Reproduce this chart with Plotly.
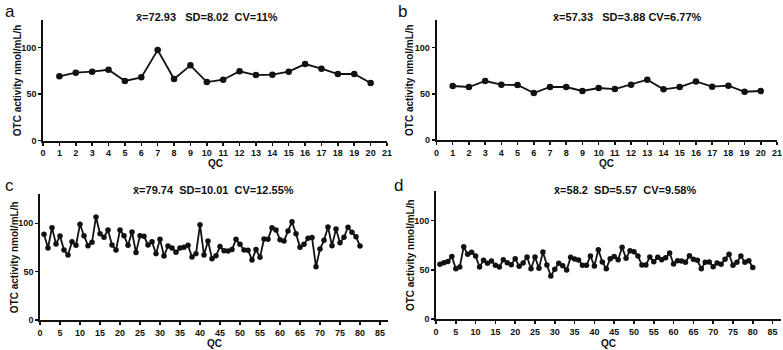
import plotly.graph_objects as go

# ---------------- data ----------------
qc_ab = list(range(1, 21))
qc_cd = list(range(1, 81))

otc_a = [69.2, 73.1, 74.2, 76.3, 64.2, 68.1, 97.5, 66.3, 81.0, 63.1,
         65.6, 74.6, 70.6, 71.0, 74.2, 82.4, 77.4, 71.7, 71.7, 62.0]

otc_b = [58.5, 57.4, 63.9, 59.9, 59.6, 50.9, 57.4, 57.4, 53.1, 56.3,
         55.2, 59.9, 65.3, 54.9, 57.4, 63.5, 57.8, 58.8, 52.3, 53.1]

otc_c = [88.6, 74.5, 95.5, 78.6, 86.9, 72.4, 67.2, 81.0, 77.2, 99.0,
         87.2, 76.9, 80.3, 106.6, 89.3, 85.5, 93.1, 77.6, 72.4, 93.1,
         87.2, 77.2, 91.0, 69.7, 87.2, 86.6, 77.6, 81.0, 68.6, 83.4,
         66.2, 76.6, 74.5, 70.0, 74.5, 75.2, 77.2, 65.2, 68.6, 98.5,
         67.2, 81.7, 63.4, 66.4, 75.9, 71.7, 71.4, 72.8, 83.4, 78.3,
         72.4, 72.1, 62.1, 72.8, 64.8, 83.8, 83.4, 95.5, 93.1, 83.1,
         81.7, 92.1, 101.7, 89.3, 75.2, 78.3, 84.5, 85.2, 55.2, 73.4,
         82.4, 96.2, 76.9, 94.1, 80.0, 85.5, 95.9, 90.7, 86.2, 76.6]

otc_d = [55.6, 57.3, 58.6, 63.7, 51.2, 52.9, 73.6, 65.8, 67.8, 64.1,
         52.9, 59.7, 56.6, 59.0, 54.6, 52.9, 60.3, 57.3, 55.3, 61.4,
         53.6, 56.9, 63.1, 51.2, 63.1, 51.5, 68.1, 54.9, 43.7, 50.5,
         56.6, 54.2, 49.8, 62.7, 61.0, 60.0, 54.6, 54.6, 64.1, 54.0,
         70.5, 58.0, 51.2, 61.4, 63.7, 60.3, 72.9, 61.7, 69.5, 68.5,
         64.1, 54.9, 54.9, 63.1, 58.3, 62.7, 60.3, 62.4, 67.1, 55.9,
         59.3, 59.0, 57.6, 64.4, 60.7, 59.7, 51.2, 57.6, 58.0, 53.2,
         56.9, 55.6, 60.7, 65.8, 54.6, 57.6, 64.1, 57.6, 59.3, 52.5]

panel_letters = ["a", "b", "c", "d"]
panel_titles = [
    "x\u0304=72.93   SD=8.02  CV=11%",
    "x\u0304=57.33   SD=3.88 CV=6.77%",
    "x\u0304=79.74  SD=10.01  CV=12.55%",
    "x\u0304=58.2  SD=5.57  CV=9.58%",
]
y_title = "OTC activity nmol/mL/h"
x_title = "QC"
y_ticks = [0, 50, 100]
x_ticks_ab = list(range(0, 22))
x_ticks_cd = list(range(0, 90, 5))

# ---------------- layout geometry ----------------
W, H = 783, 350
FONT = "Liberation Sans, Arial, Helvetica, sans-serif"

panels = [
    dict(x=qc_ab, y=otc_a, xdom=[43 / W, 387 / W], ydom=[1 - 140.7 / H, 1 - 19.8 / H],
         xr=[0, 21], xt=x_ticks_ab, ms=6.5),
    dict(x=qc_ab, y=otc_b, xdom=[436.5 / W, 777 / W], ydom=[1 - 140 / H, 1 - 20 / H],
         xr=[0, 21], xt=x_ticks_ab, ms=6.5),
    dict(x=qc_cd, y=otc_c, xdom=[40 / W, 388 / W], ydom=[1 - 320 / H, 1 - 194.3 / H],
         xr=[0, 87], xt=x_ticks_cd, ms=5.5),
    dict(x=qc_cd, y=otc_d, xdom=[436 / W, 780.5 / W], ydom=[1 - 319 / H, 1 - 191.2 / H],
         xr=[0, 87], xt=x_ticks_cd, ms=5.5),
]

fig = go.Figure()
layout = dict(
    width=W, height=H,
    margin=dict(l=0, r=0, t=0, b=0, pad=0),
    paper_bgcolor="white", plot_bgcolor="white",
    showlegend=False,
    font=dict(family=FONT, color="#111"),
)

annotations = []
for i, p in enumerate(panels):
    n = "" if i == 0 else str(i + 1)
    fig.add_trace(go.Scatter(
        x=p["x"], y=p["y"], mode="lines+markers",
        line=dict(color="#111", width=1.8),
        marker=dict(color="#111", size=p["ms"]),
        xaxis="x" + n, yaxis="y" + n, cliponaxis=False,
    ))
    layout["xaxis" + n] = dict(
        domain=p["xdom"], range=p["xr"], anchor="y" + n, automargin=False,
        tickmode="array", tickvals=p["xt"],
        ticktext=["<b>%d</b>" % v for v in p["xt"]],
        showline=True, linecolor="#111", linewidth=1.8,
        ticks="outside", ticklen=3, tickwidth=1.5, tickcolor="#111",
        showgrid=False, zeroline=False,
        tickfont=dict(family=FONT, size=9, color="#111"),
    )
    layout["yaxis" + n] = dict(
        domain=p["ydom"], range=[0, 130], anchor="x" + n, automargin=False,
        tickmode="array", tickvals=y_ticks,
        ticktext=["<b>%d</b>" % v for v in y_ticks],
        showline=True, linecolor="#111", linewidth=1.8,
        ticks="outside", ticklen=3, tickwidth=1.5, tickcolor="#111",
        showgrid=False, zeroline=False,
        tickfont=dict(family=FONT, size=9, color="#111"),
    )

# text positions (pixels)
letter_pos = [(3, 11), (396, 11), (3, 185), (392, 185)]
title_pos = [(207, 17), (627, 17), (213, 190), (625, 190)]
ytitle_x = [17, 409, 14, 410]
xtitle_y = [163, 163, 343, 343]

for i, p in enumerate(panels):
    lx, ly = letter_pos[i]
    annotations.append(dict(
        x=lx / W, y=1 - ly / H, xref="paper", yref="paper",
        xanchor="left", yanchor="middle", showarrow=False,
        text=panel_letters[i], font=dict(family=FONT, size=17, color="#111"),
    ))
    tx, ty = title_pos[i]
    annotations.append(dict(
        x=tx / W, y=1 - ty / H, xref="paper", yref="paper",
        xanchor="center", yanchor="middle", showarrow=False,
        text="<b>" + panel_titles[i] + "</b>",
        font=dict(family=FONT, size=11, color="#111"),
    ))
    yc = (p["ydom"][0] + p["ydom"][1]) / 2
    annotations.append(dict(
        x=ytitle_x[i] / W, y=yc, xref="paper", yref="paper",
        xanchor="center", yanchor="middle", showarrow=False, textangle=-90,
        text="<b>" + y_title + "</b>",
        font=dict(family=FONT, size=10, color="#111"),
    ))
    xc = (p["xdom"][0] + p["xdom"][1]) / 2
    annotations.append(dict(
        x=xc, y=1 - xtitle_y[i] / H, xref="paper", yref="paper",
        xanchor="center", yanchor="middle", showarrow=False,
        text="<b>" + x_title + "</b>",
        font=dict(family=FONT, size=10, color="#111"),
    ))

layout["annotations"] = annotations
fig.update_layout(**layout)
fig.write_html(
    "out.html",
    config={"displayModeBar": False, "staticPlot": True},
    post_script="document.body.style.margin='0';document.body.style.padding='0';"
                "document.body.style.overflow='hidden';",
)
